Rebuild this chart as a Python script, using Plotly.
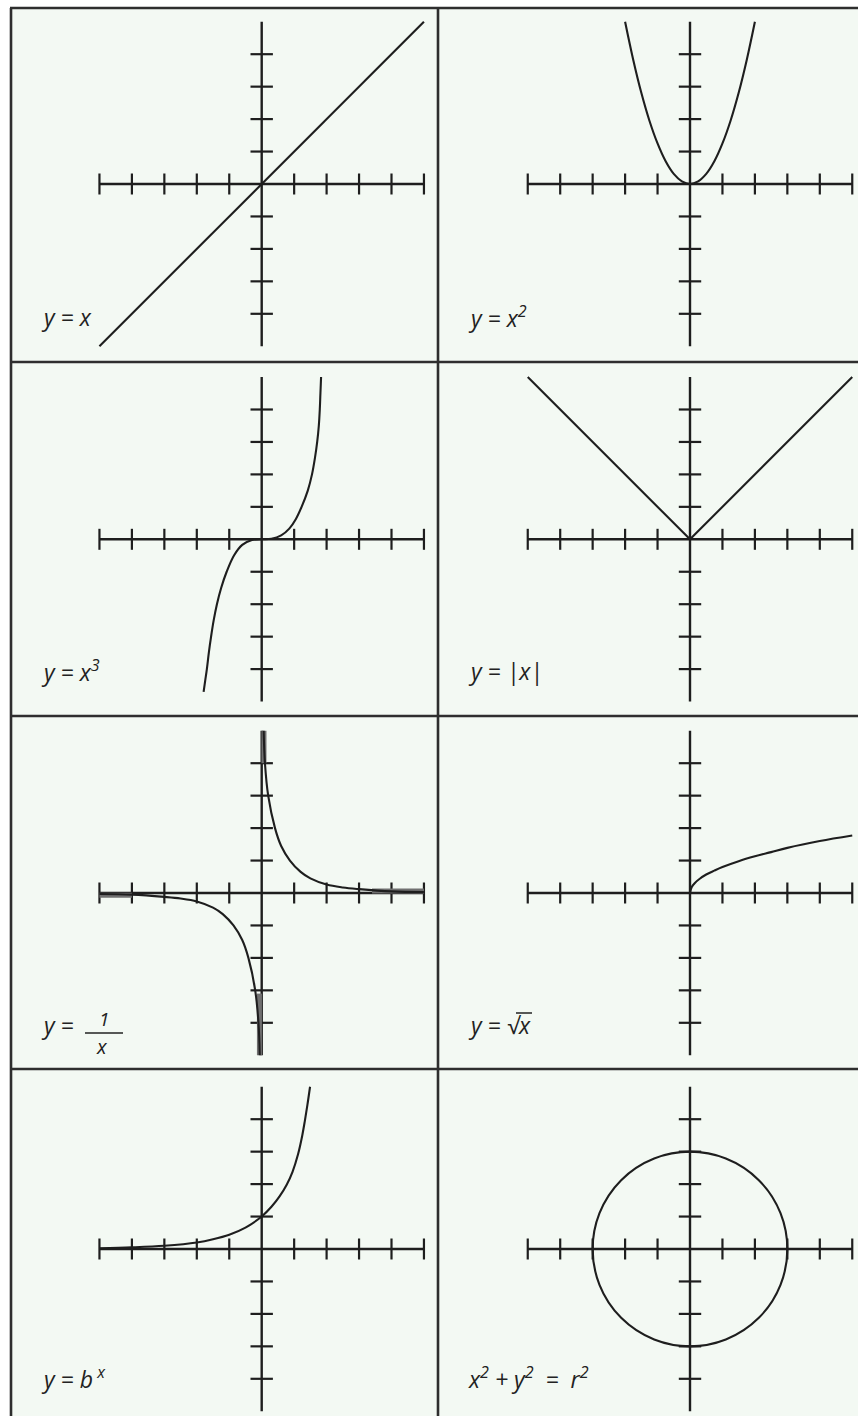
import plotly.graph_objects as go

W, H = 858, 1416

# ---------------- data ----------------
axis_span = [-5, 5]
x_ticks = [-5, -4, -3, -2, -1, 1, 2, 3, 4, 5]
y_ticks = [-4, -3, -2, -1, 1, 2, 3, 4]

lin_x = [-5, 5]
lin_y = [-5, 5]

sq_x = [-2, -1.75, -1.5, -1.25, -1, -0.75, -0.5, -0.25, 0, 0.25, 0.5, 0.75, 1, 1.25, 1.5, 1.75, 2]
sq_y = [5, 3.83, 2.81, 1.95, 1.25, 0.70, 0.31, 0.08, 0, 0.08, 0.31, 0.70, 1.25, 1.95, 2.81, 3.83, 5]

cub_x = [-1.79, -1.74, -1.69, -1.63, -1.56, -1.48, -1.38, -1.25, -1.08, -0.85, -0.6, -0.3, 0,
         0.3, 0.6, 0.85, 1.05, 1.23, 1.42, 1.55, 1.64, 1.71, 1.76, 1.79, 1.81, 1.83]
cub_y = [-4.7, -4.35, -4.0, -3.5, -3.0, -2.5, -2.0, -1.5, -1.0, -0.49, -0.17, -0.02, 0,
         0.015, 0.12, 0.33, 0.62, 1.0, 1.5, 2.0, 2.5, 3.0, 3.5, 4.0, 4.5, 5.0]

abs_x = [-5, 0, 5]
abs_y = [5, 0, 5]

inv_pos_x = [0.06, 0.1, 0.2, 0.41, 0.6, 0.87, 1.2, 1.5, 2, 2.5, 3, 4, 5]
inv_pos_y = [5, 4, 3, 2, 1.45, 1, 0.65, 0.45, 0.26, 0.17, 0.12, 0.05, 0.03]
inv_neg_x = [-5, -4, -3, -2.5, -2, -1.5, -1.2, -0.87, -0.6, -0.41, -0.2, -0.1, -0.06]
inv_neg_y = [-0.03, -0.05, -0.12, -0.17, -0.26, -0.45, -0.65, -1, -1.45, -2, -3, -4, -5]
inv_band_x = [0.07, 0.07, None, -0.07, -0.07, None, -5, -4, None, 3.4, 5]
inv_band_y = [5, 4, None, -3.1, -5, None, -0.07, -0.07, None, 0.06, 0.06]

sqrt_x = [0, 0.05, 0.15, 0.3, 0.5, 0.75, 1, 1.5, 2, 2.5, 3, 4, 5]
sqrt_y = [0, 0.18, 0.31, 0.44, 0.57, 0.69, 0.8, 0.98, 1.13, 1.26, 1.39, 1.6, 1.77]

exp_x = [-5, -4, -3, -2, -1.5, -1, -0.5, 0, 0.3, 0.55, 0.77, 0.95, 1.12, 1.25, 1.33, 1.41, 1.49]
exp_y = [0.02, 0.05, 0.1, 0.2, 0.3, 0.44, 0.66, 1.0, 1.3, 1.62, 1.98, 2.38, 2.92, 3.5, 3.95, 4.45, 5.0]

circle_r = 3

NB = "\u00a0"
labels = ["y = x", "y = x<sup>2</sup>", "y = x<sup>3</sup>", "y = |x|",
          "y =", "y = √x", "y = b<sup> x</sup>",
          f"x<sup>2</sup> + y<sup>2</sup>{NB} ={NB} r<sup>2</sup>"]

# ---------------- layout geometry (pixels) ----------------
cols = [(11, 438, 261.7), (438, 858, 690.0)]
rows = [(8, 362, 184.0), (362, 716, 539.3), (716, 1069, 893.0), (1069, 1416, 1249.0)]
UNIT = 32.45
INK = "#1e1e1e"
BG = "#f3f9f3"
FONT = "Open Sans"
FS = 23

def px(x):
    return x / W

def py(y):
    return 1 - y / H

fig = go.Figure()
layout = dict(width=W, height=H, margin=dict(l=0, r=0, t=0, b=0),
              paper_bgcolor="white", plot_bgcolor=BG, showlegend=False)

curves = [
    [(lin_x, lin_y, "linear")],
    [(sq_x, sq_y, "spline")],
    [(cub_x, cub_y, "spline")],
    [(abs_x, abs_y, "linear")],
    [(inv_pos_x, inv_pos_y, "spline"), (inv_neg_x, inv_neg_y, "spline")],
    [(sqrt_x, sqrt_y, "spline")],
    [(exp_x, exp_y, "spline")],
    [],
]

shapes = []
annotations = []
for i in range(8):
    r, c = divmod(i, 2)
    x0, x1, ox = cols[c]
    y0, y1, oy = rows[r]
    n = i + 1
    xa = "x" if n == 1 else f"x{n}"
    ya = "y" if n == 1 else f"y{n}"
    layout["xaxis" if n == 1 else f"xaxis{n}"] = dict(
        domain=[px(x0), px(x1)], range=[(x0 - ox) / UNIT, (x1 - ox) / UNIT],
        visible=False, fixedrange=True, anchor=ya)
    layout["yaxis" if n == 1 else f"yaxis{n}"] = dict(
        domain=[py(y1), py(y0)], range=[(oy - y1) / UNIT, (oy - y0) / UNIT],
        visible=False, fixedrange=True, anchor=xa)

    # axes
    fig.add_trace(go.Scatter(x=[axis_span[0], axis_span[1], None, 0, 0],
                             y=[0, 0, None, axis_span[0], axis_span[1]],
                             mode="lines", line=dict(color=INK, width=2.4),
                             xaxis=xa, yaxis=ya, hoverinfo="skip"))
    fig.add_trace(go.Scatter(x=x_ticks, y=[0] * len(x_ticks), mode="markers",
                             marker=dict(symbol="line-ns", size=15, color=INK,
                                         line=dict(color=INK, width=2.2)),
                             xaxis=xa, yaxis=ya, hoverinfo="skip"))
    fig.add_trace(go.Scatter(x=[0] * len(y_ticks), y=y_ticks, mode="markers",
                             marker=dict(symbol="line-ew", size=16, color=INK,
                                         line=dict(color=INK, width=2.2)),
                             xaxis=xa, yaxis=ya, hoverinfo="skip"))
    if i == 4:
        fig.add_trace(go.Scatter(x=inv_band_x, y=inv_band_y, mode="lines",
                                 line=dict(color="#707070", width=5),
                                 xaxis=xa, yaxis=ya, hoverinfo="skip"))
    for cx, cy, shp in curves[i]:
        fig.add_trace(go.Scatter(x=cx, y=cy, mode="lines",
                                 line=dict(color=INK, width=2.1, shape=shp, smoothing=1.0),
                                 xaxis=xa, yaxis=ya, hoverinfo="skip"))
    if i == 7:
        shapes.append(dict(type="circle", xref=xa, yref=ya,
                           x0=-circle_r, x1=circle_r, y0=-circle_r, y1=circle_r,
                           line=dict(color=INK, width=2.1)))

    # label
    lx = x0 + 28
    ly = y0 + 309
    annotations.append(dict(xref="paper", yref="paper", x=px(lx), y=py(ly),
                            xanchor="left", yanchor="middle", showarrow=False,
                            text=f"<i>{labels[i]}</i>",
                            font=dict(family=FONT, size=FS, color="#222")))

# fraction for 1/x
annotations.append(dict(xref="paper", yref="paper", x=px(104), y=py(1019),
                        xanchor="center", yanchor="middle", showarrow=False,
                        text="<i>1</i>", font=dict(family=FONT, size=19, color="#222")))
annotations.append(dict(xref="paper", yref="paper", x=px(102), y=py(1046),
                        xanchor="center", yanchor="middle", showarrow=False,
                        text="<i>x</i>", font=dict(family=FONT, size=20, color="#222")))
shapes.append(dict(type="line", xref="paper", yref="paper", x0=px(85), x1=px(123),
                   y0=py(1033), y1=py(1033), line=dict(color="#222", width=1.6)))
# overline of the square root sign
shapes.append(dict(type="line", xref="paper", yref="paper", x0=px(516), x1=px(532),
                   y0=py(1013), y1=py(1013), line=dict(color="#222", width=1.5)))

# borders
bc = "#2e2e2e"
bw = 2.6
shapes.append(dict(type="line", xref="paper", yref="paper", x0=px(11), x1=px(11),
                   y0=py(8), y1=0, line=dict(color=bc, width=bw)))
shapes.append(dict(type="line", xref="paper", yref="paper", x0=px(438), x1=px(438),
                   y0=py(8), y1=0, line=dict(color=bc, width=bw)))
for yb in [8, 362, 716, 1069]:
    shapes.append(dict(type="line", xref="paper", yref="paper", x0=px(10), x1=1,
                       y0=py(yb), y1=py(yb), line=dict(color=bc, width=bw)))

layout["shapes"] = shapes
layout["annotations"] = annotations
fig.update_layout(**layout)
fig.write_html("out.html", config={"displayModeBar": False},
               post_script="document.body.style.margin='0px';")
